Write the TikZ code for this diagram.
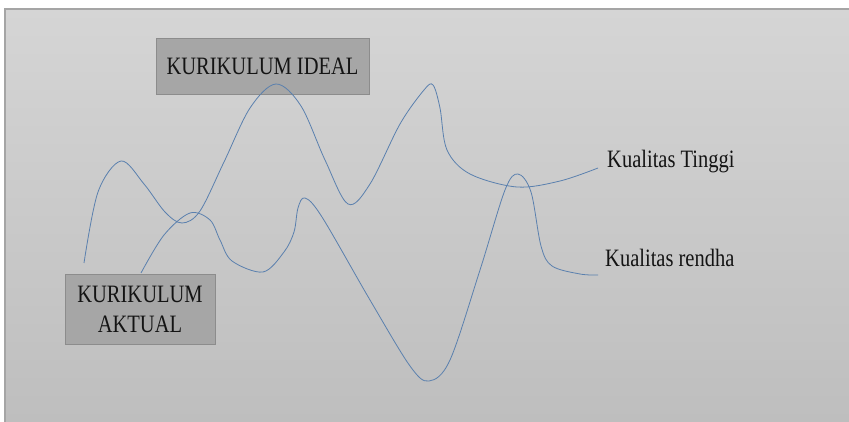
\documentclass[tikz,border=0pt]{standalone}
\usepackage{fontspec}
\setmainfont{Liberation Serif}[FakeStretch=0.82]
\usepackage{xcolor}
\definecolor{curveblue}{HTML}{5A80AE}
\definecolor{boxgray}{HTML}{A6A6A6}
\definecolor{boxline}{HTML}{8C8C8C}
\definecolor{bgtop}{HTML}{D5D5D5}
\definecolor{bgbottom}{HTML}{BEBEBE}
\definecolor{panelline}{HTML}{A5A5A5}
\definecolor{ink}{HTML}{141414}

\begin{document}
\begin{tikzpicture}[x=1pt, y=-1pt,
  kurbox/.style={draw=boxline, fill=boxgray, line width=0.8pt,
                 font=\fontsize{25}{30}\selectfont, align=center, text=ink},
  quality/.style={font=\fontsize{25}{30}\selectfont, text=ink,
                  inner sep=0pt, anchor=base west},
  wave/.style={draw=curveblue, line width=0.8pt}
]
  \useasboundingbox (0,0) rectangle (849,422);

  % Background panel
  \shade[top color=bgtop, bottom color=bgbottom] (5,9) rectangle (849,422);
  \draw[panelline, line width=1.2pt] (5,422) -- (5,9) -- (849,9);

  % Boxes
  \node[kurbox, minimum width=213pt, minimum height=56pt] (ideal) at (262.5,66) {KURIKULUM IDEAL};
  \node[kurbox, minimum width=150pt, minimum height=70pt] (aktual) at (140,309) {KURIKULUM\\AKTUAL};

  % Quality labels
  \node[quality] (tinggi) at (607,168) {Kualitas Tinggi};
  \node[quality] (rendha) at (605,266) {Kualitas rendha};

  % Curve ending at high quality
  \draw[wave] plot[smooth, tension=0.55] coordinates {
    (84,263) (98,192) (121,161) (144,184) (165,212) (182,223) (200,211)
    (224,162) (250,108) (276,84) (301,106) (325,160) (348,204) (370,184)
    (400,124) (424,90) (433,85) (440,108) (447,150) (470,174) (517,187)
    (560,181) (598,168)};

  % Curve ending at low quality
  \draw[wave] plot[smooth, tension=0.55] coordinates {
    (141,273) (164,235) (190,213) (210,220) (220,240) (232,261) (263,272)
    (284,252) (294,232) (298,208) (305,198) (322,217) (370,300) (410,366)
    (429,381) (450,360) (480,270) (505,190) (518,174) (531,192) (541,246)
    (552,266) (580,274) (598,275)};
\end{tikzpicture}
\end{document}
